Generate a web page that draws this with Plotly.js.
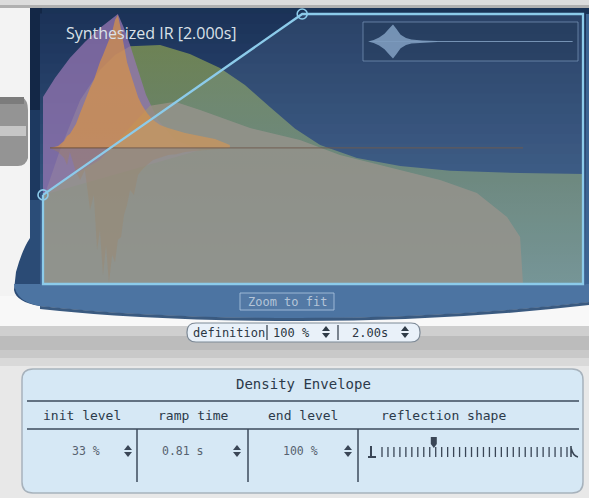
<!DOCTYPE html>
<html><head><meta charset="utf-8">
<script src="https://cdn.plot.ly/plotly-3.0.1.min.js"></script>
<style>html,body{margin:0;padding:0;background:#e8e8e8;overflow:hidden}#chart{width:589px;height:498px}</style>
</head><body><div id="chart"></div>
<script>
// ---------------- data ----------------
// envelope (time in s, level in %)
const envTime  = [0, 0.81, 1.6875, 1.6875, 0, 0];
const envLevel = [33, 100, 100, 0, 0, 33];
const handleTime  = [0, 0.81];
const handleLevel = [33, 100];

// late-reflection density layer (green)
const greenTime  = [0, 0.053, 0.116, 0.178, 0.225, 0.272, 0.366, 0.459, 0.553, 0.631, 0.709, 0.788, 0.866, 0.981, 1.116, 1.272, 1.491, 1.6875];
const greenLevel = [31.1, 49.6, 68.1, 79.3, 84.8, 88.1, 88.5, 85.2, 80, 73.7, 65.6, 57.5, 51.5, 46.7, 43.7, 41.9, 41.1, 40.7];

// early-reflection layer (purple)
const purpleTime  = [0, 0.0375, 0.084, 0.131, 0.178, 0.216, 0.234, 0.253, 0.272, 0.297, 0.322, 0.359, 0.4125, 0.491, 0];
const purpleLevel = [69.3, 76.3, 83.7, 89.6, 94.8, 98.5, 100, 94.8, 88.5, 79.3, 70, 60.7, 53.3, 49.6, 33];

// reverb body layer (beige)
const beigeTime  = [0, 0.09, 0.178, 0.272, 0.334, 0.4125, 0.491, 0.647, 0.803, 0.928, 1.116, 1.241, 1.356, 1.45, 1.491, 1.5];
const beigeLevel = [33, 40, 46, 58, 66, 67.5, 64.4, 57.8, 53.3, 47.8, 42.2, 38.5, 33.7, 24.8, 17.4, 0];

// synthesized impulse response (orange)
const irTime  = [0.022, 0.047, 0.066, 0.075, 0.084, 0.103, 0.116, 0.131, 0.147, 0.159, 0.169, 0.178, 0.1875, 0.197, 0.206, 0.216, 0.225, 0.234, 0.244, 0.253, 0.2625, 0.272, 0.284, 0.297, 0.309, 0.325, 0.344, 0.366, 0.391, 0.416, 0.444, 0.475, 0.506, 0.5375, 0.584];
const irUpper = [50.4, 51.1, 53, 54.8, 55.6, 59.3, 63.3, 68.1, 72.6, 75.6, 79.3, 82.2, 84.8, 87.8, 90.4, 93.3, 97.8, 99.6, 94.1, 88.5, 82.2, 78.5, 73.7, 69.3, 66.3, 63.3, 60.7, 58.9, 57.8, 57, 55.9, 55.2, 54.4, 53.7, 51.5];
const irLower = [50.4, 48.9, 46.7, 44.1, 48.9, 41.5, 38.5, 42.2, 27.4, 33, 12.6, 20, 3.3, 14.4, 0.4, 10.7, 8.1, 16.3, 17.4, 25.6, 29.3, 34.8, 33, 40.4, 42.2, 44.1, 45.9, 46.7, 47.8, 48.1, 48.9, 49.3, 49.6, 50, 50.4];
const irBaseLevel = 50.4;
const irBaseEnd = 1.5;

// overview mini waveform
const miniTime = [0.047, 0.1, 0.15, 0.2, 0.25, 0.279, 0.31, 0.35, 0.4, 0.45, 0.55, 0.69];
const miniAmp  = [0, 0.08, 0.2, 0.4, 0.7, 0.87, 0.65, 0.35, 0.18, 0.1, 0.05, 0.02];
const miniLineStart = 0.065, miniLineEnd = 1.95;

// texts
const titleText = 'Synthesized IR [2.000s]';
const panelTitle = 'Density Envelope';
const headers = ['init level', 'ramp time', 'end level', 'reflection shape'];
const values = ['33 %', '0.81 s', '100 %'];
const definitionLabel = 'definition';
const definitionValues = ['100 %', '2.00s'];
const zoomLabel = 'Zoom to fit';
const reflectionShapeValue = 0.28;  // slider position 0..1
const reflectionTicks = 32;

// ---------------- helpers (pixel -> paper) ----------------
const W = 589, H = 498;
const X = v => v / W, Y = v => 1 - v / H;
const P = s => s.replace(/(-?[\d.]+),(-?[\d.]+)/g, (m, a, b) => X(+a).toFixed(5) + ',' + Y(+b).toFixed(5));
const shapes = [];
function rect(x0, y0, x1, y1, fill, lc, lw) {
  shapes.push({type:'rect', xref:'paper', yref:'paper', x0:X(x0), x1:X(x1), y0:Y(y1), y1:Y(y0),
    fillcolor: fill, line:{color: lc || 'rgba(0,0,0,0)', width: lw || 0}, layer:'below'});
}
function path(s, fill, lc, lw) {
  shapes.push({type:'path', xref:'paper', yref:'paper', path: P(s), fillcolor: fill || 'rgba(0,0,0,0)',
    line:{color: lc || 'rgba(0,0,0,0)', width: lw || 0}, layer:'below'});
}
function line(x0, y0, x1, y1, c, w) {
  shapes.push({type:'line', xref:'paper', yref:'paper', x0:X(x0), x1:X(x1), y0:Y(y0), y1:Y(y1), line:{color:c, width:w}, layer:'below'});
}
function rr(x0, y0, x1, y1, r) {
  return `M ${x0+r},${y0} L ${x1-r},${y0} Q ${x1},${y0} ${x1},${y0+r} L ${x1},${y1-r} Q ${x1},${y1} ${x1-r},${y1} L ${x0+r},${y1} Q ${x0},${y1} ${x0},${y1-r} L ${x0},${y0+r} Q ${x0},${y0} ${x0+r},${y0} Z`;
}
const annotations = [];
function txt(t, x, y, size, color, family, anchor) {
  annotations.push({text: t, xref:'paper', yref:'paper', x:X(x), y:Y(y), xanchor: anchor || 'center', yanchor:'middle',
    showarrow:false, font:{size:size, color:color, family: family || 'DejaVu Sans'}});
}

// ---------------- surroundings ----------------
rect(0, 0, 589, 498, '#e8e8e8');
rect(0, 0, 589, 8, '#dcdcdc');
rect(0, 5, 589, 9, '#b0b0b0');
rect(0, 8, 32, 300, '#f3f3f3');
path('M 0,97 L 22,97 Q 28,100 28,110 L 28,158 Q 26,166 18,166 L 0,166 Z', '#949494');
rect(0, 97, 24, 104, '#7c7c7c');
rect(0, 126, 26, 136, '#c6c6c6');
rect(0, 296, 589, 326, '#f8f8f8');
rect(0, 326, 589, 336, '#cfcfcf');
rect(0, 336, 589, 350, '#bcbcbc');
rect(0, 350, 589, 358, '#c9c9c9');
rect(0, 358, 589, 366, '#d9d9d9');

// blue display frame
path('M 30,20 Q 30,8 42,8 L 589,8 L 589,302 Q 450,318 300,318 Q 150,318 40,306 Q 16,302 14,290 L 16,272 Q 22,250 30,238 Z', '#2b4b75');
rect(30, 8, 43, 110, '#132746');
rect(30, 110, 43, 200, '#1d3960');
rect(30, 200, 43, 250, '#2b4d78');
rect(42, 8, 589, 14, '#1a3356');
rect(583, 14, 589, 284, '#3d6593');
path('M 14,284 L 589,284 L 589,302 Q 450,318 300,318 Q 150,318 40,306 Q 16,302 14,284 Z', '#4c74a2');
path('M 40,306 Q 150,318 300,318 Q 450,318 589,302 L 589,305 Q 450,321 300,321 Q 150,321 40,309 Z', '#3a5a80');

// display background gradient
const c0 = [27, 50, 88], c1 = [64, 100, 146];
for (let i = 0; i < 27; i++) {
  const f = (i + 0.5) / 27;
  const c = c0.map((v, k) => Math.round(v + (c1[k] - v) * f));
  rect(40, 14 + i * 10 - 0.5, 586, 14 + (i + 1) * 10 + 0.5, `rgb(${c.join(',')})`);
}

// overview box
rect(363, 22, 578, 61, 'rgba(18,36,64,0.35)', 'rgba(120,150,185,0.7)', 1);

// zoom to fit button
rect(240, 293, 334, 310, 'rgba(255,255,255,0.04)', 'rgba(170,195,222,0.85)', 1);
txt(zoomLabel, 287, 302, 12, '#b5c5d8', 'DejaVu Sans Mono');

// definition pill
path(rr(187, 323, 420, 342, 9), '#e9f1f9', '#7d8996', 1.2);
line(267, 325, 267, 340, '#2f3b47', 1.2);
line(338, 325, 338, 340, '#2f3b47', 1.2);
txt(definitionLabel, 229, 332.5, 12, '#2b3743', 'DejaVu Sans Mono');
txt(definitionValues[0], 291, 333, 12, '#2b3743', 'DejaVu Sans Mono');
txt(definitionValues[1], 370, 333, 12, '#2b3743', 'DejaVu Sans Mono');
function spinner(x, y, c) {
  path(`M ${x-4},${y-1} L ${x+4},${y-1} L ${x},${y-6} Z`, c);
  path(`M ${x-4},${y+1} L ${x+4},${y+1} L ${x},${y+6} Z`, c);
}
spinner(326, 332, '#2f3b47');
spinner(405, 332, '#2f3b47');

// density envelope panel
path(rr(22, 369, 583, 493, 11), '#d6e8f5', '#a7b2bc', 1.5);
line(27, 401, 579, 401, '#3c4b5b', 1.5);
line(27, 429, 579, 429, '#3c4b5b', 1.5);
[137, 248, 358].forEach(x => line(x, 429, x, 482, '#3c4b5b', 1.5));
txt(panelTitle, 303, 384, 14, '#2c3a4a', 'DejaVu Sans Mono');
[82, 193, 303, 443].forEach((x, i) => txt(headers[i], x, 415, 13, '#2c3a4a', 'DejaVu Sans Mono'));
[86, 183, 300].forEach((x, i) => txt(values[i], x, 451, 11.5, '#56626f', 'DejaVu Sans Mono'));
[128, 237, 348].forEach(x => spinner(x, 451, '#3a4656'));
// reflection shape slider
const sx0 = 382, sx1 = 567;
path('M 371,446 L 371,457 M 368,457 L 376,457', null, '#3a4656', 2);
for (let i = 0; i < reflectionTicks; i++) {
  const x = sx0 + (sx1 - sx0) * i / (reflectionTicks - 1);
  line(x, 447, x, 457, '#3a4656', 1.3);
}
path('M 571,446 L 571,457 M 571,448 Q 573,456 578,457', null, '#3a4656', 1.6);
const pxr = sx0 + (sx1 - sx0) * reflectionShapeValue;
path(`M ${pxr-3},437 L ${pxr+3},437 L ${pxr+3},444 L ${pxr},448 L ${pxr-3},444 Z`, '#3a4656');

txt(titleText, 64, 33, 16, '#dbe1e8', 'Open Sans', 'left');

// ---------------- traces ----------------
const skip = {hoverinfo:'skip', showlegend:false};
const traces = [
  Object.assign({x: greenTime, y: greenLevel, mode:'lines', fill:'tozeroy', fillcolor:'rgba(140,165,110,0.70)',
    fillgradient:{type:'vertical', start:0, stop:90, colorscale:[[0,'rgba(128,158,142,0.78)'],[0.5,'rgba(125,150,110,0.72)'],[1,'rgba(140,160,80,0.72)']]},
    line:{width:0}}, skip),
  Object.assign({x: purpleTime, y: purpleLevel, mode:'lines', fill:'toself', fillcolor:'rgba(150,118,178,0.75)', line:{width:0}}, skip),
  Object.assign({x: beigeTime, y: beigeLevel, mode:'lines', fill:'tozeroy', fillcolor:'rgba(150,143,130,0.84)', line:{width:0}}, skip),
  Object.assign({x: irTime.concat([irTime[irTime.length-1], irTime[0]]), y: irUpper.concat([irBaseLevel, irBaseLevel]),
    mode:'lines', fill:'toself', fillcolor:'rgba(215,145,72,0.72)', line:{width:0}}, skip),
  Object.assign({x: irTime.concat([irTime[irTime.length-1], irTime[0]]), y: irLower.concat([irBaseLevel, irBaseLevel]),
    mode:'lines', fill:'toself', fillcolor:'rgba(160,125,90,0.38)', line:{width:0}}, skip),
  Object.assign({x: [irTime[0], irBaseEnd], y: [irBaseLevel, irBaseLevel], mode:'lines', line:{color:'rgba(105,78,60,0.75)', width:1.3}}, skip),
  Object.assign({x: envTime, y: envLevel, mode:'lines', fill:'toself', fillcolor:'rgba(150,180,210,0.13)', line:{color:'#8ccbea', width:2.3}}, skip),
  Object.assign({x: handleTime, y: handleLevel, mode:'markers', cliponaxis:false,
    marker:{symbol:'circle-open', size:10, color:'#8ccbea', line:{width:1.6, color:'#8ccbea'}}}, skip),
  Object.assign({x: miniTime.concat(miniTime.slice().reverse()), y: miniAmp.concat(miniAmp.slice().reverse().map(v => -v)),
    xaxis:'x2', yaxis:'y2', mode:'lines', fill:'toself', fillcolor:'rgba(125,155,190,0.9)', line:{width:0}}, skip),
  Object.assign({x: [miniLineStart, miniLineEnd], y: [0, 0], xaxis:'x2', yaxis:'y2', mode:'lines', line:{color:'rgba(125,155,190,0.9)', width:1.2}}, skip)
];

const ax = {visible:false, showgrid:false, zeroline:false, fixedrange:true};
const layout = {
  width: W, height: H, margin:{l:0, r:0, t:0, b:0},
  paper_bgcolor:'#e8e8e8', plot_bgcolor:'rgba(0,0,0,0)', showlegend:false,
  xaxis: Object.assign({domain:[40/W, 586/W], range:[-0.009375, 1.696875]}, ax),
  yaxis: Object.assign({domain:[211/H, 487/H], range:[-1.111, 101.111]}, ax),
  xaxis2: Object.assign({domain:[363/W, 578/W], range:[0, 2], anchor:'y2'}, ax),
  yaxis2: Object.assign({domain:[1-61/H, 1-22/H], range:[-1, 1], anchor:'x2'}, ax),
  shapes: shapes, annotations: annotations
};
Plotly.newPlot('chart', traces, layout, {staticPlot:true, displayModeBar:false});
</script></body></html>
